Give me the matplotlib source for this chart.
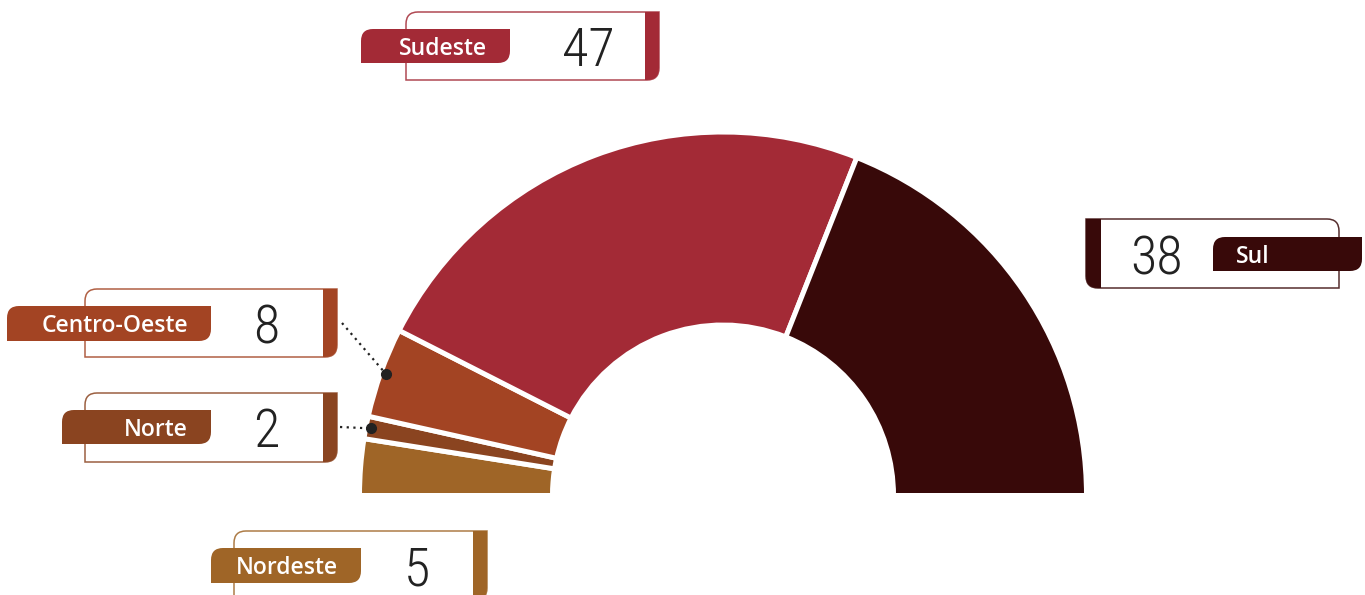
import matplotlib
matplotlib.use("Agg")
import matplotlib.pyplot as plt
import numpy as np
from matplotlib.path import Path
from matplotlib.patches import PathPatch

# ---- data ----
regions = ['Nordeste', 'Norte', 'Centro-Oeste', 'Sudeste', 'Sul']
values = [5, 2, 8, 47, 38]
colors = ['#9F6527', '#8A4420', '#A34423', '#A32A36', '#380909']

W, H = 1365, 595
fig = plt.figure(figsize=(W / 100, H / 100), dpi=100)
ax = fig.add_axes([0, 0, 1, 1])

cx, cy_px = 723, 495.5
R_out, R_in = 361, 173
gap = 5.0  # px
lw_pt = gap * 0.72

wedges, _ = ax.pie(values + [sum(values)],
                   colors=colors + ['white'],
                   startangle=180, counterclock=False,
                   center=(cx, H - cy_px), radius=R_out + gap / 2,
                   wedgeprops=dict(width=(R_out - R_in) + gap, edgecolor='white',
                                   linewidth=lw_pt),
                   frame=True)
wedges[-1].set_visible(False)


def Y(py):
    return H - py


def rpath(x0, y0, x1, y1, tl=0, tr=0, br=0, bl=0):
    v, c = [], []
    v.append((x0 + tl, y0)); c.append(Path.MOVETO)
    v.append((x1 - tr, y0)); c.append(Path.LINETO)
    v += [(x1, y0), (x1, y0 + tr)]; c += [Path.CURVE3, Path.CURVE3]
    v.append((x1, y1 - br)); c.append(Path.LINETO)
    v += [(x1, y1), (x1 - br, y1)]; c += [Path.CURVE3, Path.CURVE3]
    v.append((x0 + bl, y1)); c.append(Path.LINETO)
    v += [(x0, y1), (x0, y1 - bl)]; c += [Path.CURVE3, Path.CURVE3]
    v.append((x0, y0 + tl)); c.append(Path.LINETO)
    v += [(x0, y0), (x0 + tl, y0)]; c += [Path.CURVE3, Path.CURVE3]
    v.append((x0 + tl, y0)); c.append(Path.CLOSEPOLY)
    v = [(x, Y(y)) for x, y in v]
    return Path(v, c)


def add(path, **kw):
    p = PathPatch(path, **kw)
    ax.add_patch(p)
    return p


label_font = dict(family=['Open Sans', 'DejaVu Sans'], weight='semibold',
                  fontsize=16.5, color='white')
num_font = dict(family=['Roboto Condensed', 'Open Sans Condensed', 'Open Sans', 'DejaVu Sans'],
                weight='light', fontsize=39, color='#222222')

# layout per region: box (x0,y0,x1,y1), bar side, tag (x0,y0,x1,y1), number x
layout = {
    'Sudeste':      dict(box=(406, 12, 659, 80), side='right', tag=(361, 29, 510, 63), nx=588),
    'Sul':          dict(box=(1086, 219, 1339, 288), side='left', tag=(1213, 237, 1362, 271), nx=1157),
    'Centro-Oeste': dict(box=(85, 289, 337, 357), side='right', tag=(7, 306, 211, 341), nx=266),
    'Norte':        dict(box=(85, 393, 337, 462), side='right', tag=(62, 410, 211, 444), nx=266),
    'Nordeste':     dict(box=(234, 531, 487, 600), side='right', tag=(211, 548, 361, 583), nx=417),
}

r = 12
for reg, val, col in zip(regions, values, colors):
    L = layout[reg]
    x0, y0, x1, y1 = L['box']
    if L['side'] == 'right':
        add(rpath(x0, y0, x1, y1, tl=r, br=r), facecolor='white', edgecolor=col,
            linewidth=1.1, alpha=0.85, zorder=3)
        add(rpath(x1 - 14, y0, x1, y1, br=r), facecolor=col, edgecolor='none', zorder=4)
    else:
        add(rpath(x0, y0, x1, y1, tr=r, bl=r), facecolor='white', edgecolor=col,
            linewidth=1.1, alpha=0.85, zorder=3)
        add(rpath(x0, y0, x0 + 15, y1, bl=r), facecolor=col, edgecolor='none', zorder=4)
    tx0, ty0, tx1, ty1 = L['tag']
    add(rpath(tx0, ty0, tx1, ty1, tl=r, br=r), facecolor=col, edgecolor='none', zorder=5)
    tyc = Y((ty0 + ty1) / 2)
    if L['side'] == 'right':
        ax.text(tx1 - 23, tyc, reg, ha='right', va='center_baseline', zorder=6, **label_font)
    else:
        ax.text(tx0 + 23, tyc, reg, ha='left', va='center_baseline', zorder=6, **label_font)
    ax.text(L['nx'], tyc, str(val), ha='center', va='center_baseline', zorder=6, **num_font)

# leader lines with dots for the small slices
total = sum(values)
cum = np.cumsum([0] + values)
leaders = {'Centro-Oeste': (342, 323), 'Norte': (340, 427)}
for i, reg in enumerate(regions):
    if reg not in leaders:
        continue
    mid = 180 - 180 * (cum[i] + values[i] / 2) / total
    rr = R_out - 3
    dx = cx + rr * np.cos(np.radians(mid))
    dy = (H - cy_px) + rr * np.sin(np.radians(mid))
    sx, sy = leaders[reg]
    ax.plot([sx, dx], [Y(sy), dy], color='#222222', linewidth=1.6,
            linestyle=(0, (1, 2)), zorder=7)
    ax.plot(dx, dy, 'o', color='#222222', markersize=7, zorder=8)

ax.set_xlim(0, W)
ax.set_ylim(0, H)
ax.set_aspect('equal')
ax.axis('off')
fig.savefig('out.png', dpi=100)
